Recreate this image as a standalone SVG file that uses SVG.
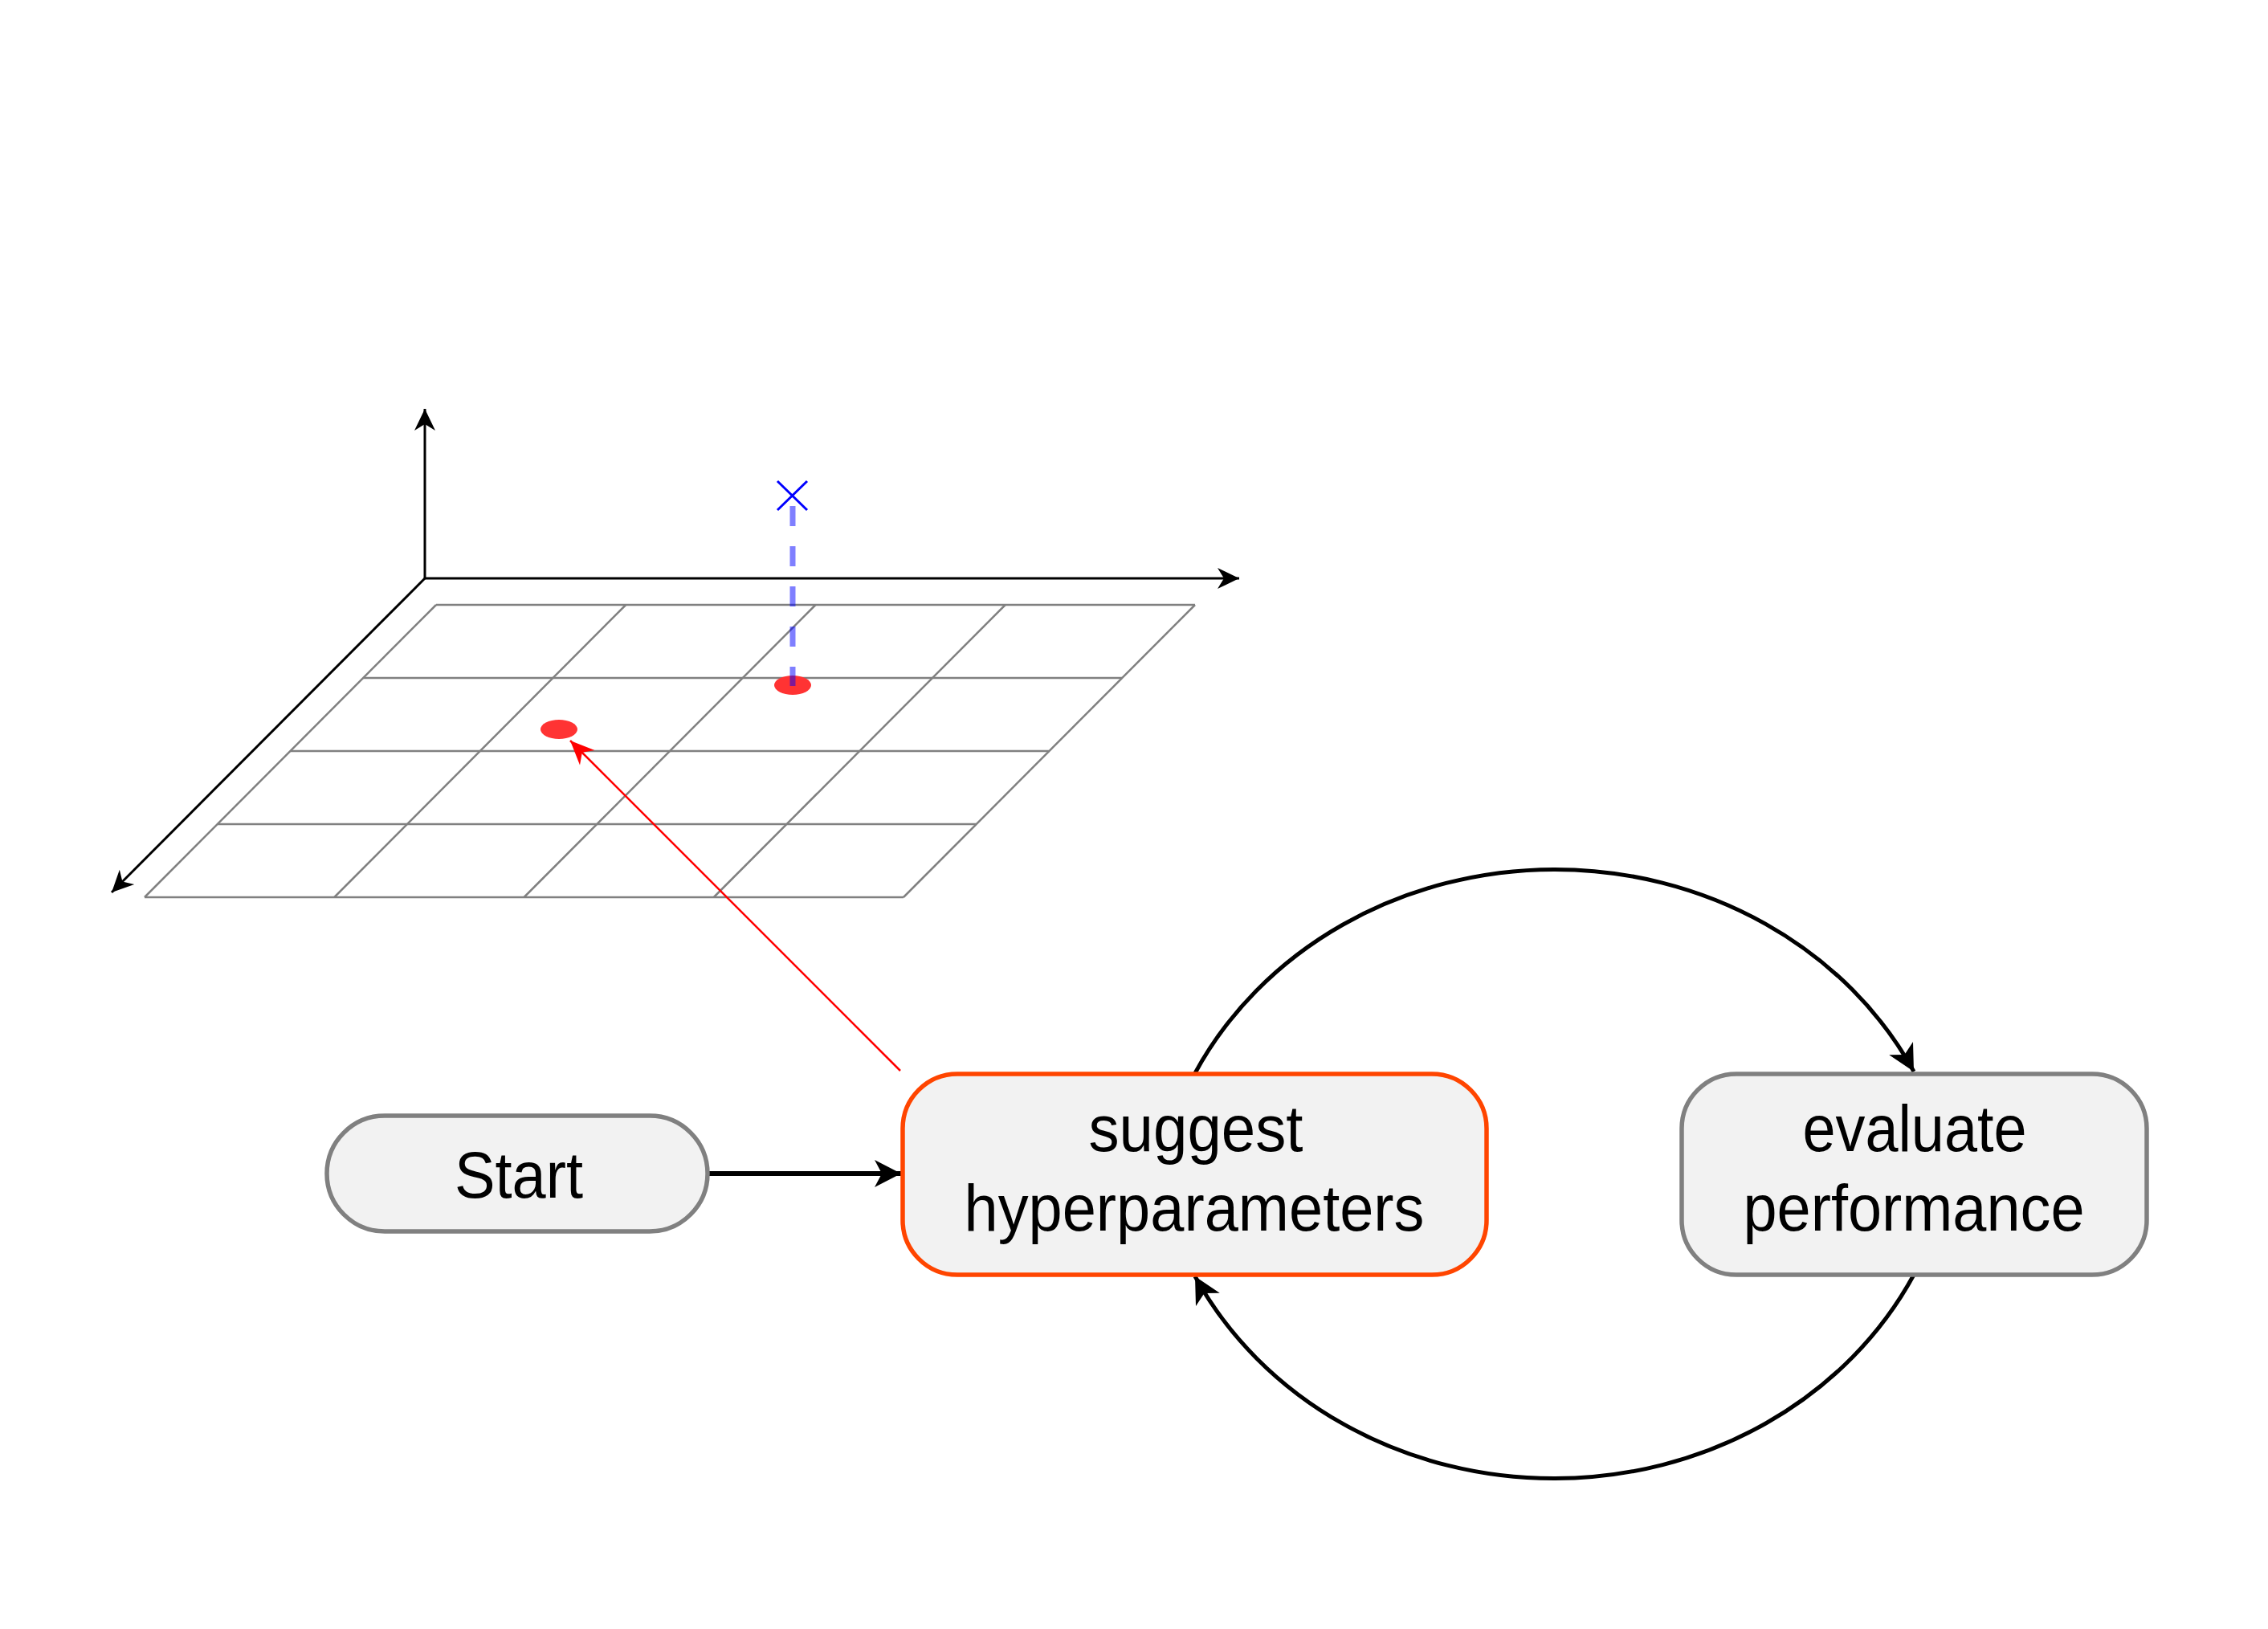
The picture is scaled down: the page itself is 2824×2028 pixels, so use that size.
<svg xmlns="http://www.w3.org/2000/svg" width="2824" height="2028" viewBox="0 0 2824 2028">
<defs>
<style>
.axis{stroke:#000;stroke-width:3;fill:none}
.grid{stroke:#808080;stroke-width:2.5;fill:none}
.node{fill:#f2f2f2;stroke-width:5.5}
.lbl{font-family:"Liberation Sans",Arial,sans-serif;font-size:81px;fill:#000;text-anchor:middle}
.conn{stroke:#000;stroke-width:5;fill:none}
.thick{stroke-width:6}
</style>
<marker id="ah" markerUnits="userSpaceOnUse" viewBox="-30 -15 32 30" markerWidth="32" markerHeight="30" refX="0" refY="0" orient="auto">
<path d="M0,0 L-27,-13 L-19,0 L-27,13 Z" fill="#000"/>
</marker>
<marker id="ahBig" markerUnits="userSpaceOnUse" viewBox="-36 -20 38 40" markerWidth="38" markerHeight="40" refX="0" refY="0" orient="auto">
<path d="M0,0 L-33,-17 L-24,0 L-33,17 Z" fill="#000"/>
</marker>
<marker id="ahRed" markerUnits="userSpaceOnUse" viewBox="-34 -16 36 32" markerWidth="36" markerHeight="32" refX="0" refY="0" orient="auto">
<path d="M0,0 L-30,-13 L-21,0 L-30,13 Z" fill="#ff0000"/>
</marker>
</defs>
<rect width="2824" height="2028" fill="#fff"/>

<g id="plot">
<g id="grid" class="grid">
<line x1="543" y1="753" x2="1488" y2="753"/>
<line x1="452.25" y1="844" x2="1397.25" y2="844"/>
<line x1="361.5" y1="935" x2="1306.5" y2="935"/>
<line x1="270.75" y1="1026" x2="1215.75" y2="1026"/>
<line x1="180" y1="1117" x2="1125" y2="1117"/>
<line x1="543" y1="753" x2="180" y2="1117"/>
<line x1="779.25" y1="753" x2="416.25" y2="1117"/>
<line x1="1015.5" y1="753" x2="652.5" y2="1117"/>
<line x1="1251.75" y1="753" x2="888.75" y2="1117"/>
<line x1="1488" y1="753" x2="1125" y2="1117"/>
</g>
<g id="axes" class="axis">
<line x1="529" y1="720" x2="529" y2="509" marker-end="url(#ah)"/>
<line x1="529" y1="720" x2="1543" y2="720" marker-end="url(#ah)"/>
<line x1="529" y1="720" x2="139" y2="1111" marker-end="url(#ah)"/>
</g>
<ellipse cx="987" cy="853" rx="23" ry="12" fill="#ff3333"/>
<ellipse cx="696" cy="908" rx="23" ry="12" fill="#ff3333"/>
<line x1="987" y1="630" x2="987" y2="854" stroke="#0000ff" stroke-opacity="0.5" stroke-width="7" stroke-dasharray="25 25"/>
<path d="M968,599 L1005,635 M1005,599 L968,635" stroke="#0000ff" stroke-width="3" fill="none"/>
</g>

<g id="connectors">
<line x1="1121" y1="1333" x2="710" y2="922" stroke="#ff0000" stroke-width="2.5" marker-end="url(#ahRed)"/>
<line x1="881" y1="1461" x2="1122" y2="1461" class="conn thick" marker-end="url(#ahBig)"/>
<path d="M1488,1336 A500,456 0 0 1 2383,1334" class="conn" marker-end="url(#ahBig)"/>
<path d="M2383,1587 A500,456 0 0 1 1488,1589" class="conn" marker-end="url(#ahBig)"/>
</g>

<g id="node-start">
<rect x="407" y="1389" width="474" height="144" rx="72" ry="72" class="node" stroke="#808080"/>
<text x="646" y="1491" class="lbl" textLength="160" lengthAdjust="spacingAndGlyphs">Start</text>
</g>
<g id="node-suggest">
<rect x="1124" y="1337" width="727" height="250" rx="68" ry="68" class="node" stroke="#ff4500"/>
<text x="1489" y="1433" class="lbl" textLength="267" lengthAdjust="spacingAndGlyphs">suggest</text>
<text x="1487" y="1532" class="lbl" textLength="573" lengthAdjust="spacingAndGlyphs">hyperparameters</text>
</g>
<g id="node-evaluate">
<rect x="2094" y="1337" width="579" height="250" rx="68" ry="68" class="node" stroke="#808080"/>
<text x="2384" y="1433" class="lbl" textLength="279" lengthAdjust="spacingAndGlyphs">evaluate</text>
<text x="2383" y="1532" class="lbl" textLength="425" lengthAdjust="spacingAndGlyphs">performance</text>
</g>
</svg>
